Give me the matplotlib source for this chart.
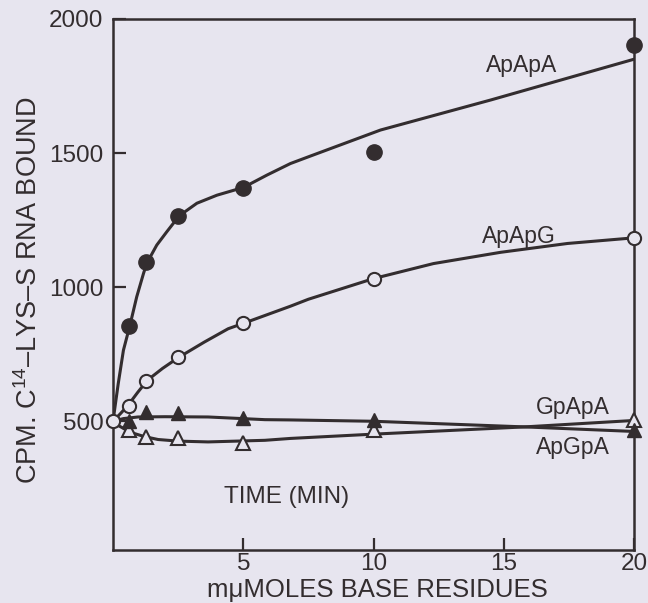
import matplotlib
matplotlib.use("Agg")
import matplotlib.pyplot as plt

plt.rcParams["font.family"] = ["Liberation Sans", "DejaVu Sans"]
plt.rcParams["mathtext.fontset"] = "custom"
plt.rcParams["mathtext.rm"] = "Liberation Sans"
plt.rcParams["mathtext.it"] = "Liberation Sans"

INK = "#332d2f"
PAPER = "#e7e5ef"

# measured points (x = mumoles base residues, y = cpm bound)
apapa_x = [0.625, 1.25, 2.5, 5, 10, 20]
apapa_y = [856, 1094, 1267, 1370, 1505, 1903]
apapg_x = [0, 0.625, 1.25, 2.5, 5, 10, 20]
apapg_y = [500, 557, 652, 738, 865, 1032, 1184]
gpapa_x = [0.625, 1.25, 2.5, 5, 10, 20]
gpapa_y = [469, 440, 436, 420, 466, 504]
apgpa_x = [0.625, 1.25, 2.5, 5, 10, 20]
apgpa_y = [500, 536, 532, 512, 504, 466]

# hand-drawn fit curves
apapa_cx = [0, 0.2, 0.4, 0.65, 0.91, 1.17, 1.30, 1.68, 2.06, 2.54, 3.22, 3.99,
            5.01, 5.91, 6.81, 7.58, 10.27, 14.5, 20]
apapa_cy = [500, 640, 765, 858, 964, 1051, 1090, 1157, 1206, 1266, 1313, 1343,
            1372, 1418, 1461, 1489, 1586, 1698, 1850]
apapg_cx = [0, 0.3, 0.58, 0.95, 1.32, 1.9, 2.5, 3.5, 4.42, 5, 6.81, 7.5, 10,
            12.3, 14.88, 17.45, 20]
apapg_cy = [500, 530, 560, 608, 653, 697, 737, 795, 845, 865, 929, 955, 1032,
            1088, 1130, 1163, 1184]
gpapa_cx = [0, 0.19, 0.5, 0.83, 1.2, 1.73, 2.5, 3.65, 5.83, 6.81, 10, 15.8, 20]
gpapa_cy = [500, 485, 468, 454, 443, 432, 426, 423, 429, 436, 452, 479, 503]
apgpa_cx = [0, 0.4, 0.96, 2.0, 3.65, 5.83, 6.81, 10, 15.8, 20]
apgpa_cy = [500, 510, 516, 517, 516, 506, 505, 500, 479, 462]

labels = ["ApApA", "ApApG", "GpApA", "ApGpA"]
label_x = [15.7, 15.6, 17.65, 17.65]
label_y = [1828, 1190, 551, 402]

fig = plt.figure(figsize=(6.48, 6.03), dpi=100, facecolor=PAPER)
ax = fig.add_axes([0.1744, 0.0879, 0.804, 0.8806])
ax.set_facecolor(PAPER)

lw = 2.2
for cx, cy in [(apapa_cx, apapa_cy), (apapg_cx, apapg_cy),
               (gpapa_cx, gpapa_cy), (apgpa_cx, apgpa_cy)]:
    ax.plot(cx, cy, color=INK, lw=lw, solid_capstyle="round",
            solid_joinstyle="round", zorder=2)

ax.plot(apapa_x, apapa_y, "o", ms=11, mfc=INK, mec=INK, zorder=4, clip_on=False)
ax.plot(apapg_x, apapg_y, "o", ms=9.5, mfc=PAPER, mec=INK, mew=1.5, zorder=4, clip_on=False)
ax.plot(gpapa_x, gpapa_y, "^", ms=10, mfc=PAPER, mec=INK, mew=1.5, zorder=4, clip_on=False)
ax.plot(apgpa_x, apgpa_y, "^", ms=10, mfc=INK, mec=INK, zorder=5, clip_on=False)

for t, lx, ly in zip(labels, label_x, label_y):
    ax.text(lx, ly, t, ha="center", va="center", fontsize=16.5, color=INK)
ax.text(6.65, 216, "TIME (MIN)", ha="center", va="center", fontsize=17.5, color=INK)

ax.set_xlim(0, 20)
ax.set_ylim(20, 2000)
ax.set_xticks([5, 10, 15, 20])
ax.set_yticks([500, 1000, 1500, 2000])
ax.tick_params(direction="in", length=9, width=1.6, color=INK, labelcolor=INK,
               labelsize=17.5, pad=7)
ax.tick_params(axis="x", pad=2)
for s in ax.spines.values():
    s.set_color(INK)
    s.set_linewidth(1.8)

ax.set_xlabel("m\u03bcMOLES BASE RESIDUES", fontsize=18.5, color=INK)
ax.xaxis.set_label_coords(0.508, -0.097)
ax.xaxis.label.set_va("bottom")
ax.set_ylabel("CPM. C$^{14}$\u2013LYS\u2013S RNA BOUND", fontsize=19.5, color=INK)
ax.yaxis.set_label_coords(-0.135, 0.49)

fig.savefig("out.png", dpi=100, facecolor=PAPER)
